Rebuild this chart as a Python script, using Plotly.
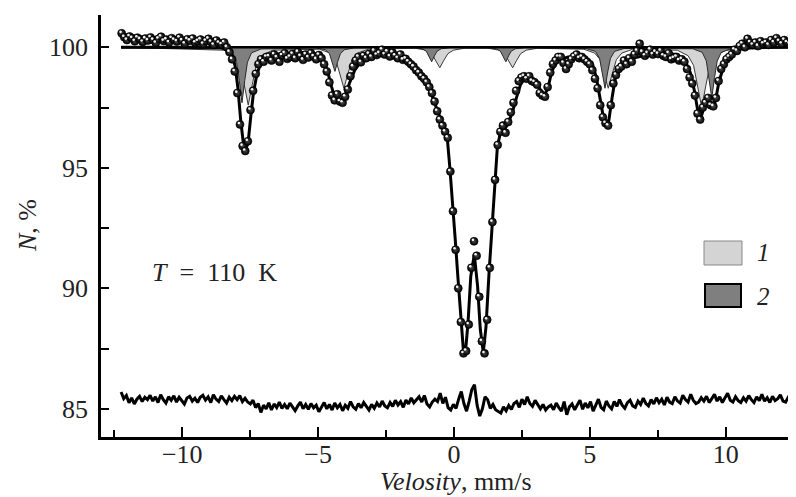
import numpy as np
import plotly.graph_objects as go

# ---------------- data ----------------
# measured spectrum (transmission, %), equally spaced velocity channels
N_data = [
    100.58, 100.42, 100.30, 100.45, 100.38, 100.25, 100.40, 100.33, 100.22, 100.36,
    100.28, 100.41, 100.30, 100.18, 100.35, 100.44, 100.26, 100.32, 100.20, 100.38,
    100.30, 100.24, 100.40, 100.28, 100.15, 100.33, 100.27, 100.36, 100.19, 100.25,
    100.32, 100.14, 100.26, 100.35, 100.22, 100.10, 100.28, 100.18, 100.12, 100.20,
    100.0, 99.8, 99.5, 99.0, 98.1, 96.8, 95.9, 95.7, 96.1, 97.4, 98.2, 98.9, 99.3, 99.5, 99.4, 99.6,
    99.62, 99.45, 99.70, 99.58, 99.40, 99.66, 99.75, 99.52, 99.60, 99.72,
    99.55, 99.80, 99.63, 99.48, 99.70, 99.58, 99.75, 99.62, 99.50, 99.68,
    99.55, 99.30, 99.0, 98.55,
    98.0, 97.8, 98.05, 97.75, 97.7, 97.95, 98.25, 98.8, 99.2,
    99.45, 99.60, 99.38, 99.65, 99.55, 99.72, 99.60, 99.85, 99.68, 99.75,
    99.90, 99.70, 99.82, 99.62, 99.78, 99.65, 99.55, 99.70, 99.48, 99.52,
    99.4, 99.3, 99.2, 99.05, 98.95, 98.8, 98.7, 98.55,
    98.35, 98.1, 97.75, 97.35, 97.0, 96.75, 96.5, 96.25,
    94.85, 93.2, 91.6, 90.0, 88.6, 87.3, 87.4, 88.5, 90.85, 91.95,
    91.35, 89.65, 87.8, 87.3, 88.7, 90.85, 92.75, 94.5, 95.95, 96.5,
    96.75, 96.45, 96.9, 97.3, 97.7, 98.2, 98.6, 98.75, 98.8, 98.7,
    98.8, 98.6, 98.55, 98.45, 98.1, 98.0, 97.95, 98.35, 98.95, 99.3,
    99.45, 99.6,
    99.6, 99.35, 99.1, 99.3, 99.5, 99.62, 99.7, 99.55, 99.6, 99.5, 99.4, 99.3, 99.05,
    98.7, 98.3, 97.6, 97.1, 96.85, 96.75, 97.6, 98.5, 98.85, 99.1, 99.2,
    99.45, 99.3, 99.55, 99.4, 99.7, 99.85, 100.15, 99.8, 99.65, 99.75, 99.9,
    99.7, 99.8, 99.72, 99.85, 99.65, 99.6, 99.75, 99.5, 99.55, 99.6, 99.45,
    99.5, 99.4, 99.1, 98.75, 98.5, 98.0, 97.25, 97.0, 97.5, 97.7,
    97.9, 97.6, 97.55, 97.9, 98.6, 99.1, 99.3, 99.5, 99.6,
    99.7, 99.9, 99.85, 100.05, 100.15, 100.0, 100.35, 100.2, 100.1, 100.2,
    100.05, 100.25, 100.15, 100.2, 100.1, 100.3, 100.2, 100.38, 100.25, 100.15,
    100.3, 100.2, 100.15, 100.5,
]
v_first, v_last = -12.23, 12.45

# residual (difference curve, shifted to ~85 %)
N_resid = [
    85.70, 85.42, 85.55, 85.25, 85.45, 85.20, 85.40, 85.52, 85.30, 85.48, 85.38, 85.56, 85.32, 85.50, 85.26, 85.58,
    85.38, 85.24, 85.50, 85.35, 85.54, 85.28, 85.48, 85.34, 85.20, 85.45, 85.52, 85.32, 85.44, 85.26, 85.48, 85.56,
    85.36, 85.50, 85.26, 85.58, 85.40, 85.30, 85.54, 85.38, 85.24, 85.48, 85.34, 85.52, 85.38, 85.55, 85.30, 85.44,
    85.28, 85.20, 85.36, 85.05, 85.22, 84.85, 85.15, 85.00, 85.25, 84.95, 85.20, 85.05, 85.28, 85.02, 85.18, 85.00,
    85.24, 85.08, 84.92, 85.12, 85.28, 85.00, 85.18, 84.98, 85.22, 85.04, 85.15, 84.88, 85.10, 85.26, 85.00, 85.18,
    84.95, 85.24, 85.04, 85.18, 84.92, 85.15, 85.02, 85.30, 85.08, 84.98, 85.22, 85.04, 85.26, 85.10, 84.95, 85.18,
    85.02, 85.24, 85.08, 85.32, 85.12, 85.04, 85.26, 85.10, 85.35, 85.16, 85.30, 85.06, 85.36, 85.20, 85.45, 85.25,
    85.40, 85.50, 85.28, 85.55,
    85.20, 85.08, 85.28, 85.40, 85.30, 85.65, 85.22, 85.48, 85.05, 84.95, 85.18, 85.02, 85.40, 85.72,
    85.22, 84.90, 85.32, 85.80, 86.00, 85.15, 84.70, 85.00, 85.50, 85.38, 85.02, 85.18, 84.96, 84.90,
    84.82, 85.08, 84.92, 85.14, 84.98, 85.22, 85.30, 85.06, 85.40, 85.18, 85.50, 85.22, 85.10, 85.35, 85.18, 85.00,
    85.18, 84.95, 85.08, 85.15, 84.96, 85.24, 85.05, 84.90, 85.30, 84.75, 85.08, 85.20, 84.96, 85.14, 85.36, 84.98,
    85.24, 85.04, 85.30, 84.90, 85.18, 85.40, 85.06, 84.96, 85.32, 85.12, 85.00, 85.30, 85.10, 85.38, 85.15, 85.02,
    85.26, 85.36, 85.12, 85.06, 85.32, 85.18, 85.44, 85.22, 85.12, 85.38, 85.20, 85.46, 85.25, 85.40, 85.16, 85.48,
    85.28, 85.22, 85.50, 85.32, 85.24, 85.56, 85.38, 85.28, 85.60, 85.35, 85.22, 85.28, 85.46, 85.32, 85.52, 85.26,
    85.42, 85.60, 85.32, 85.50, 85.26, 85.44, 85.65, 85.35, 85.28, 85.50, 85.34, 85.26, 85.46, 85.32, 85.55, 85.38,
    85.26, 85.50, 85.34, 85.60, 85.32, 85.46, 85.26, 85.52, 85.34, 85.42, 85.58, 85.32, 85.28, 85.48, 85.36, 85.75,
]
r_first, r_last = -12.25, 12.50

# total fit envelope
fit_v = [-12.25, -8.6, -8.3, -8.15, -8.05, -7.95, -7.85, -7.75, -7.68, -7.58, -7.48, -7.38, -7.25, -7.1, -6.9,
         -6.5, -5.5, -5.0, -4.8, -4.65, -4.5, -4.38, -4.25, -4.1, -3.98, -3.85, -3.65, -3.4, -3.0, -2.5, -2.0,
         -1.6, -1.2, -0.9, -0.65, -0.4, -0.25, -0.15, -0.05, 0.05, 0.15, 0.25, 0.35, 0.42, 0.52, 0.62, 0.75,
         0.87, 0.97, 1.08, 1.18, 1.29, 1.4, 1.5, 1.6, 1.72, 1.87, 2.0, 2.15, 2.3, 2.45, 2.65, 2.9, 3.1, 3.3,
         3.45, 3.6, 3.8, 4.2, 4.8, 5.1, 5.25, 5.4, 5.5, 5.6, 5.7, 5.82, 5.95, 6.2, 6.6, 7.5, 8.2, 8.5, 8.7,
         8.85, 8.97, 9.07, 9.2, 9.35, 9.5, 9.62, 9.75, 9.95, 10.2, 10.6, 11.0, 12.45]
fit_N = [100.0, 100.0, 99.88, 99.65, 99.2, 98.3, 97.0, 96.0, 95.75, 96.0, 97.1, 98.1, 98.9, 99.35, 99.55,
         99.72, 99.78, 99.7, 99.45, 99.0, 98.35, 97.9, 97.8, 97.85, 98.05, 98.5, 99.05, 99.45, 99.68, 99.72, 99.62,
         99.35, 98.85, 98.3, 97.5, 96.75, 96.3, 95.0, 93.6, 92.0, 90.4, 88.8, 87.4, 87.3, 88.6, 90.5, 91.4,
         90.1, 88.3, 87.35, 88.4, 90.6, 92.6, 94.4, 95.9, 96.5, 96.6, 96.85, 97.3, 97.9, 98.45, 98.78, 98.68, 98.4, 98.0,
         98.25, 99.0, 99.45, 99.6, 99.6, 99.3, 98.7, 97.7, 97.1, 96.85, 96.95, 97.9, 98.8, 99.25, 99.55, 99.78, 99.7, 99.45, 98.95,
         98.2, 97.4, 97.0, 97.5, 97.85, 97.65, 97.75, 98.55, 99.3, 99.72, 99.95, 100.0, 100.0]

# subspectrum 1 (light grey sextet)
sub1_v = [-12.25,
          -8.47, -8.07, -7.87, -7.72, -7.57, -7.42, -7.27, -7.07, -6.67,
          -4.95, -4.55, -4.35, -4.20, -4.05, -3.90, -3.75, -3.55, -3.15,
          -1.42, -1.02, -0.82, -0.67, -0.52, -0.37, -0.22, -0.02, 0.38,
          1.26, 1.66, 1.86, 2.01, 2.16, 2.31, 2.46, 2.66, 3.06,
          4.78, 5.18, 5.38, 5.53, 5.68, 5.83, 5.98, 6.18, 6.58,
          8.22, 8.62, 8.82, 8.97, 9.12, 9.27, 9.42, 9.62, 10.02,
          12.45]
sub1_N = [100.0,
          99.88, 99.66, 99.28, 98.46, 97.60, 98.46, 99.28, 99.66, 99.88,
          99.92, 99.76, 99.49, 98.91, 98.30, 98.91, 99.49, 99.76, 99.92,
          99.96, 99.88, 99.74, 99.46, 99.15, 99.46, 99.74, 99.88, 99.96,
          99.96, 99.88, 99.74, 99.46, 99.15, 99.46, 99.74, 99.88, 99.96,
          99.92, 99.76, 99.49, 98.91, 98.30, 98.91, 99.49, 99.76, 99.92,
          99.88, 99.65, 99.25, 98.40, 97.50, 98.40, 99.25, 99.65, 99.88,
          100.0]

# subspectrum 2 (dark grey sextet)
sub2_v = [-12.25,
          -8.50, -8.15, -8.00, -7.90, -7.80, -7.70, -7.60, -7.45, -7.10,
          -5.08, -4.73, -4.58, -4.48, -4.38, -4.28, -4.18, -4.03, -3.68,
          -1.52, -1.17, -1.02, -0.92, -0.82, -0.72, -0.62, -0.47, -0.12,
          1.21, 1.56, 1.71, 1.81, 1.91, 2.01, 2.11, 2.26, 2.61,
          4.86, 5.21, 5.36, 5.46, 5.56, 5.66, 5.76, 5.91, 6.26,
          8.79, 9.14, 9.29, 9.39, 9.49, 9.59, 9.69, 9.84, 10.19,
          12.45]
sub2_N = [100.0,
          99.93, 99.77, 99.38, 98.62, 97.70, 98.62, 99.38, 99.77, 99.93,
          99.97, 99.90, 99.73, 99.40, 99.00, 99.40, 99.73, 99.90, 99.97,
          99.98, 99.94, 99.84, 99.64, 99.40, 99.64, 99.84, 99.94, 99.98,
          99.98, 99.94, 99.84, 99.64, 99.40, 99.64, 99.84, 99.94, 99.98,
          99.95, 99.83, 99.54, 98.98, 98.30, 98.98, 99.54, 99.83, 99.95,
          99.94, 99.79, 99.43, 98.74, 97.90, 98.74, 99.43, 99.79, 99.94,
          100.0]

baseline_v = [-12.25, 12.45]
baseline_N = [100.0, 100.0]

x_ticks = [-10, -5, 0, 5, 10]
x_ticktext = ["\u221210", "\u22125", "0", "5", "10"]
x_minor = [-12.5, -7.5, -2.5, 2.5, 7.5, 12.5]
y_ticks = [85, 90, 95, 100]
y_minor = [87.5, 92.5, 97.5]

# ---------------- figure ----------------
FONT = "Liberation Serif, Times New Roman, serif"
v_data = np.linspace(v_first, v_last, len(N_data))
v_resid = np.linspace(r_first, r_last, len(N_resid))

fig = go.Figure()
fig.add_trace(go.Scatter(x=sub1_v, y=sub1_N, mode="lines", fill="toself",
                         fillcolor="#d4d4d4", line=dict(color="#3a3a3a", width=1)))
fig.add_trace(go.Scatter(x=sub2_v, y=sub2_N, mode="lines", fill="toself",
                         fillcolor="#7f7f7f", line=dict(color="#2a2a2a", width=1)))
fig.add_trace(go.Scatter(x=baseline_v, y=baseline_N, mode="lines",
                         line=dict(color="black", width=2.5)))
fig.add_trace(go.Scatter(x=fit_v, y=fit_N, mode="lines",
                         line=dict(color="black", width=3)))
fig.add_trace(go.Scatter(x=v_data, y=N_data, mode="markers",
                         marker=dict(size=8, color="#000000",
                                     line=dict(width=0.6, color="#000"),
                                     gradient=dict(type="radial", color="#4a4a4a"))))
# small specular highlight on each sphere (same data, drawn slightly up-left)
fig.add_trace(go.Scatter(x=v_data - 0.04, y=np.array(N_data) + 0.06, mode="markers",
                         marker=dict(size=2.6, color="#f2f2f2", line=dict(width=0))))
fig.add_trace(go.Scatter(x=v_resid, y=N_resid, mode="lines",
                         line=dict(color="black", width=3)))

def px(x):
    return (x - 101) / 695.0

def py(y):
    return (437 - y) / 422.0

shapes = [
    dict(type="rect", xref="paper", yref="paper", x0=px(704), x1=px(742), y0=py(265), y1=py(241),
         fillcolor="#d4d4d4", line=dict(color="#888888", width=1)),
    dict(type="rect", xref="paper", yref="paper", x0=px(705), x1=px(741), y0=py(307), y1=py(284),
         fillcolor="#7f7f7f", line=dict(color="black", width=2)),
]
ann_common = dict(xref="paper", yref="paper", showarrow=False, xanchor="center", yanchor="middle")
annotations = [
    dict(text="<i>1</i>", x=px(763), y=py(253), font=dict(family=FONT, size=25, color="#222"), **ann_common),
    dict(text="<i>2</i>", x=px(763), y=py(296), font=dict(family=FONT, size=25, color="#222"), **ann_common),
    dict(text="<i>T</i>\u2002=\u2002110\u2002K", x=px(214), y=py(272),
         font=dict(family=FONT, size=26, color="#222"), **ann_common),
    dict(text="<i>Velosity</i>, mm/s", x=px(456), y=py(481), font=dict(family=FONT, size=26, color="#222"), **ann_common),
    dict(text="<i>N</i>, %", x=px(27), y=py(226), textangle=-90,
         font=dict(family=FONT, size=26, color="#222"), **ann_common),
]

# the page body has an 8px margin: size/margins chosen so the plot area sits at
# x 101..796, y 15..437 of the window
fig.update_layout(
    width=788, height=489,
    margin=dict(l=93, r=0, t=7, b=60),
    plot_bgcolor="white", paper_bgcolor="white",
    showlegend=False,
    shapes=shapes, annotations=annotations,
    font=dict(family=FONT, size=26, color="#222"),
)
fig.update_xaxes(range=[-12.99, 12.59], showgrid=False, zeroline=False,
                 showline=True, linecolor="black", linewidth=2.5,
                 ticks="inside", ticklen=10, tickwidth=1.5, tickcolor="black",
                 tickvals=x_ticks, ticktext=x_ticktext, ticklabelstandoff=-8,
                 minor=dict(tickvals=x_minor, ticks="inside", ticklen=7, tickwidth=1.5, tickcolor="black"),
                 tickfont=dict(family=FONT, size=26, color="#222"))
fig.update_yaxes(range=[83.83, 101.34], showgrid=False, zeroline=False,
                 showline=True, linecolor="black", linewidth=2.5,
                 ticks="inside", ticklen=8, tickwidth=1.5, tickcolor="black",
                 tickvals=y_ticks, ticklabelstandoff=5,
                 minor=dict(tickvals=y_minor, ticks="inside", ticklen=8, tickwidth=1.5, tickcolor="black"),
                 tickfont=dict(family=FONT, size=26, color="#222"))

fig.write_html("out.html")
